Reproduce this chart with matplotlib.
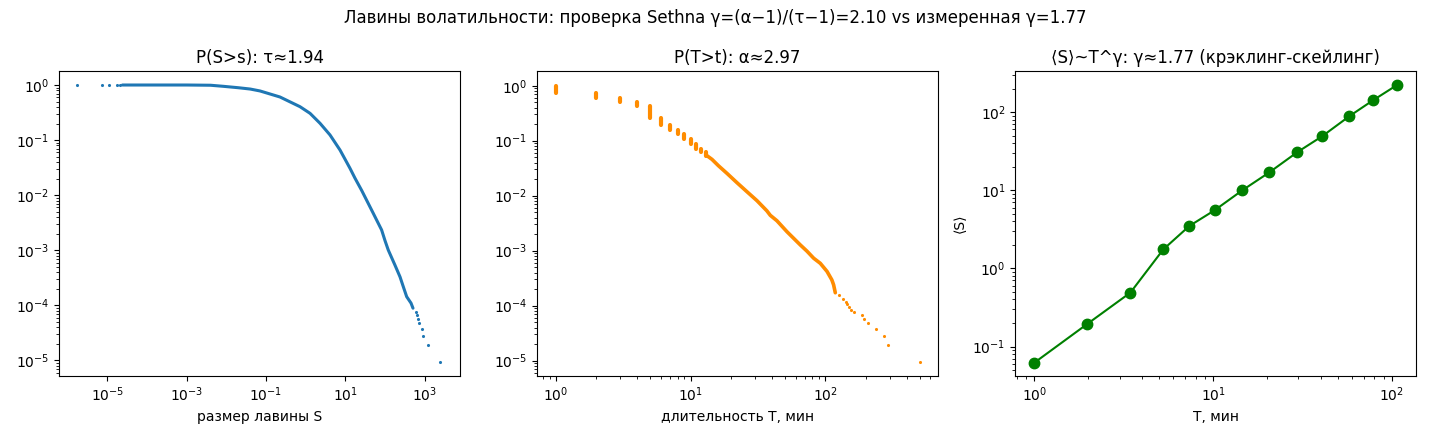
import numpy as np
import matplotlib
matplotlib.use("Agg")
import matplotlib.pyplot as plt

# --- P(S>s): avalanche sizes ---
# dense part of the CCDF, drawn as a thick band
size_dense_s = [2.4e-5, 1e-4, 1e-3, 4e-3, 8.4e-3, 0.02, 0.04, 0.0706, 0.225, 0.72,
                1.29, 2.30, 4.11, 7.35, 10.0, 13.1, 17.5, 26.0, 50.7, 82.2, 100.0, 121.0,
                178.0, 239.0, 289.0, 352.0, 453.0, 508.0]
size_dense_p = [1.0, 1.0, 1.0, 0.99, 0.947, 0.893, 0.845, 0.78, 0.606, 0.404,
                0.306, 0.202, 0.124, 0.066, 0.044, 0.0308, 0.0204, 0.0121, 0.00468, 0.00234, 0.0015, 0.00101,
                0.00054, 0.00033, 0.000219, 0.000144, 0.00011, 0.000089]
# isolated points at both ends
size_tail_s = [1.72e-6, 7.5e-6, 1.12e-5, 1.79e-5, 2.09e-5,
               617.0, 630.0, 680.0, 733.0, 872.0, 925.0, 1236.0, 2480.0]
size_tail_p = [1.0, 1.0, 1.0, 1.0, 1.0,
               7.5e-5, 6.7e-5, 5.62e-5, 4.73e-5, 3.68e-5, 2.75e-5, 1.89e-5, 9.3e-6]

# --- P(T>t): avalanche durations ---
# integer durations with stacked (tied) points
dur_stack_t = [1, 2, 3, 4, 5, 6, 7, 8, 9, 10, 11, 12, 13]
dur_stack_hi = [1.0, 0.73, 0.59, 0.50, 0.42, 0.255, 0.197, 0.159, 0.131, 0.106, 0.086, 0.072, 0.062]
dur_stack_lo = [0.73, 0.59, 0.50, 0.42, 0.255, 0.197, 0.159, 0.131, 0.106, 0.086, 0.072, 0.062, 0.053]
dur_dense_t = [13.0, 14.4, 16.1, 18.6, 22.1, 26.2, 31.1, 36.8, 39.0, 43.7, 51.9, 65.2,
               73.0, 81.8, 91.6, 102.8, 111.6, 115.0, 118.4]
dur_dense_p = [0.055, 0.0458, 0.035, 0.0255, 0.0172, 0.0118, 0.0081, 0.0053, 0.0044, 0.0035,
               0.00221, 0.00127, 0.00098, 0.00073, 0.00059, 0.00042, 0.000295, 0.00024, 0.000172]
dur_tail_t = [126.8, 134.3, 143.0, 145.0, 148.7, 153.8, 162.0, 186.0, 192.0, 207.0,
              237.5, 270.0, 290.0, 500.0]
dur_tail_p = [1.57e-4, 1.30e-4, 1.18e-4, 1.07e-4, 9.3e-5, 8.5e-5, 7.6e-5, 6.68e-5, 5.66e-5, 4.79e-5,
              3.72e-5, 2.78e-5, 1.9e-5, 9.3e-6]

# --- <S> vs T ---
T_bins = [1.0, 1.97, 3.45, 5.27, 7.37, 10.2, 14.6, 20.7, 29.6, 40.9, 58.0, 78.9, 107.0]
S_mean = [0.062, 0.193, 0.49, 1.75, 3.49, 5.54, 10.0, 17.0, 30.7, 49.3, 88.9, 142.6, 222.0]


fig, axes = plt.subplots(1, 3, figsize=(14.3, 4.4), dpi=100)
fig.subplots_adjust(left=0.0415, right=0.99, bottom=0.1455, top=0.8386, wspace=0.194)

# sizes
ax = axes[0]
ax.plot(size_dense_s, size_dense_p, color='tab:blue', lw=2.2,
        solid_capstyle='round', solid_joinstyle='round')
ax.scatter(size_tail_s, size_tail_p, s=5, color='tab:blue', linewidths=0)
ax.set_xscale('log')
ax.set_yscale('log')
ax.set_xlim(10**-6.21, 10**3.883)
ax.set_ylim(10**-5.281, 10**0.254)
ax.set_xlabel('размер лавины S')
ax.set_title('P(S>s): τ≈1.94')

# durations
ax = axes[1]
ax.vlines(dur_stack_t, dur_stack_lo, dur_stack_hi, color='darkorange', lw=3.0, capstyle='round')
ax.plot(dur_dense_t, dur_dense_p, color='darkorange', lw=2.6,
        solid_capstyle='round', solid_joinstyle='round')
ax.scatter(dur_tail_t, dur_tail_p, s=5, color='darkorange', linewidths=0)
ax.set_xscale('log')
ax.set_yscale('log')
ax.set_xlim(10**-0.137, 10**2.833)
ax.set_ylim(10**-5.278, 10**0.267)
ax.set_xlabel('длительность T, мин')
ax.set_title('P(T>t): α≈2.97')

# crackling scaling
ax = axes[2]
ax.plot(T_bins, S_mean, 'o-', color='green', markersize=7.5)
ax.set_xscale('log')
ax.set_yscale('log')
ax.set_xlim(10**-0.106, 10**2.134)
ax.set_ylim(10**-1.377, 10**2.526)
ax.set_xlabel('T, мин')
ax.set_ylabel('⟨S⟩')
ax.set_title('⟨S⟩~T^γ: γ≈1.77 (крэклинг-скейлинг)')

fig.suptitle('Лавины волатильности: проверка Sethna γ=(α−1)/(τ−1)=2.10 vs измеренная γ=1.77')
fig.savefig('out.png', dpi=100)
